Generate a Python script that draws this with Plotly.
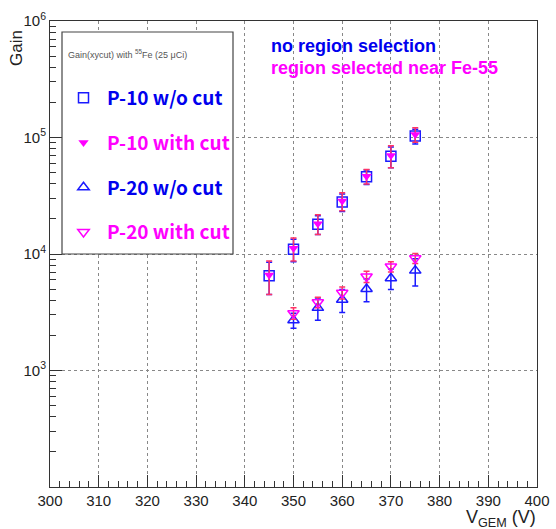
import plotly.graph_objects as go

# Gain vs GEM voltage for P-10 and P-20 gas, with and without the Fe-55 region cut
v_p10 = [345, 350, 355, 360, 365, 370, 375]
gain_p10_nocut = [6500, 11000, 18000, 28000, 46000, 69000, 103000]
err_p10_nocut = [2000, 2400, 3300, 4800, 6500, 14000, 15000]
gain_p10_cut = [6600, 11200, 18200, 28500, 46500, 70000, 106000]
err_p10_cut = [2100, 2500, 3500, 5000, 6700, 15000, 15000]

v_p20 = [350, 355, 360, 365, 370, 375]
gain_p20_nocut = [2700, 3450, 4050, 5000, 6200, 7200]
err_p20_nocut = [400, 750, 900, 1100, 1250, 1900]
gain_p20_cut = [3100, 3850, 4650, 6400, 7800, 9200]
err_p20_cut = [350, 400, 550, 700, 800, 900]

x_ticks = list(range(300, 401, 10))
y_ticks = [1e3, 1e4, 1e5, 1e6]
y_ticktext = ["10<sup>3</sup>", "10<sup>4</sup>", "10<sup>5</sup>", "10<sup>6</sup>"]

BLUE = "#1a1aff"
MAGENTA = "#ff00ff"
RED = "#ff3366"
TEXT_FONT = "Noto Sans CJK KR, Noto Sans, sans-serif"
AXIS_FONT = "Liberation Sans, Arial, sans-serif"

# plot-area geometry in pixels (used to place paper-referenced items)
L, R, T, B = 50, 537, 21, 487
W, H = R - L, B - T


def px_x(x):
    return (x - L) / W


def px_y(y):
    return (B - y) / H


def label(text, color):
    return f"<span style='color:{color}'><b>{text}</b></span>"


fig = go.Figure()

fig.add_trace(go.Scatter(
    x=v_p10, y=gain_p10_nocut, mode="markers", name=label("P-10 w/o cut", "#0000ee"),
    legendgroup="a",
    marker=dict(symbol="square-open", size=10, color=BLUE, line=dict(width=1.5)),
    error_y=dict(type="data", array=err_p10_nocut, color=BLUE, thickness=1.5, width=3),
))
fig.add_trace(go.Scatter(
    x=v_p10, y=gain_p10_cut, mode="markers", name=label("P-10 with cut", MAGENTA),
    legendgroup="b",
    marker=dict(symbol="triangle-down", size=9, color=MAGENTA),
    error_y=dict(type="data", array=err_p10_cut, color=RED, thickness=1.5, width=3),
))
fig.add_trace(go.Scatter(
    x=v_p20, y=gain_p20_nocut, mode="markers", name=label("P-20 w/o cut", "#0000ee"),
    legendgroup="c",
    marker=dict(symbol="triangle-up-open", size=10, color=BLUE, line=dict(width=1.5)),
    error_y=dict(type="data", array=err_p20_nocut, color=BLUE, thickness=1.5, width=3),
))
fig.add_trace(go.Scatter(
    x=v_p20, y=gain_p20_cut, mode="markers", name=label("P-20 with cut", MAGENTA),
    legendgroup="d",
    marker=dict(symbol="triangle-down-open", size=10, color=MAGENTA, line=dict(width=1.5)),
    error_y=dict(type="data", array=err_p20_cut, color=RED, thickness=1.5, width=3),
))

fig.update_layout(
    width=556, height=529,
    margin=dict(l=L, r=556 - R, t=T, b=529 - B, autoexpand=False),
    paper_bgcolor="white", plot_bgcolor="white",
    font=dict(family=AXIS_FONT, size=15, color="#222"),
    showlegend=True,
    legend=dict(
        x=px_x(60), y=px_y(79), xanchor="left", yanchor="top",
        bgcolor="rgba(0,0,0,0)", borderwidth=0,
        font=dict(family=TEXT_FONT, size=19),
        tracegroupgap=17, itemwidth=37,
        itemclick=False,
    ),
    xaxis=dict(
        range=[300, 400], tickvals=x_ticks, ticks="inside", ticklen=12, tickcolor="#333",
        showline=True, linecolor="#333", linewidth=1, mirror=True,
        showgrid=True, gridcolor="#888", griddash="dot", gridwidth=1,
        zeroline=False, automargin=False,
        minor=dict(dtick=2, ticks="inside", ticklen=6, tickcolor="#333", showgrid=False),
    ),
    yaxis=dict(
        type="log", range=[2, 6], tickvals=y_ticks, ticktext=y_ticktext,
        ticks="inside", ticklen=12, tickcolor="#333",
        showline=True, linecolor="#333", linewidth=1, mirror=True,
        showgrid=True, gridcolor="#888", griddash="dot", gridwidth=1,
        zeroline=False, automargin=False,
        minor=dict(dtick="D1", ticks="inside", ticklen=6, tickcolor="#333", showgrid=False),
    ),
    shapes=[dict(
        type="rect", xref="paper", yref="paper",
        x0=px_x(62), x1=px_x(233), y0=px_y(254), y1=px_y(32),
        fillcolor="white", line=dict(color="#444", width=1.2), layer="above",
    )],
    annotations=[
        dict(text="Gain(xycut) with <sup>55</sup>Fe (25 \u03bcCi)", xref="paper", yref="paper",
             x=px_x(66), y=px_y(54), xanchor="left", yanchor="middle", showarrow=False,
             font=dict(family=AXIS_FONT, size=9, color="#555")),
        dict(text="<b>no region selection</b>", xref="paper", yref="paper",
             x=px_x(269), y=px_y(46), xanchor="left", yanchor="middle",
             showarrow=False,
             font=dict(family=AXIS_FONT, size=18, color="#0000ee")),
        dict(text="<b>region selected near Fe-55</b>", xref="paper", yref="paper",
             x=px_x(269), y=px_y(68), xanchor="left", yanchor="middle",
             showarrow=False,
             font=dict(family=AXIS_FONT, size=18, color=MAGENTA)),
        dict(text="Gain", xref="paper", yref="paper", x=px_x(17), y=px_y(28),
             xanchor="center", yanchor="top", textangle=-90, showarrow=False,
             font=dict(family=AXIS_FONT, size=17, color="#222")),
        dict(text="V<sub>GEM</sub> (V)", xref="paper", yref="paper", x=px_x(538), y=px_y(532),
             xanchor="right", yanchor="bottom", showarrow=False,
             font=dict(family=AXIS_FONT, size=18, color="#222")),
    ],
)

fig.write_html("out.html")
